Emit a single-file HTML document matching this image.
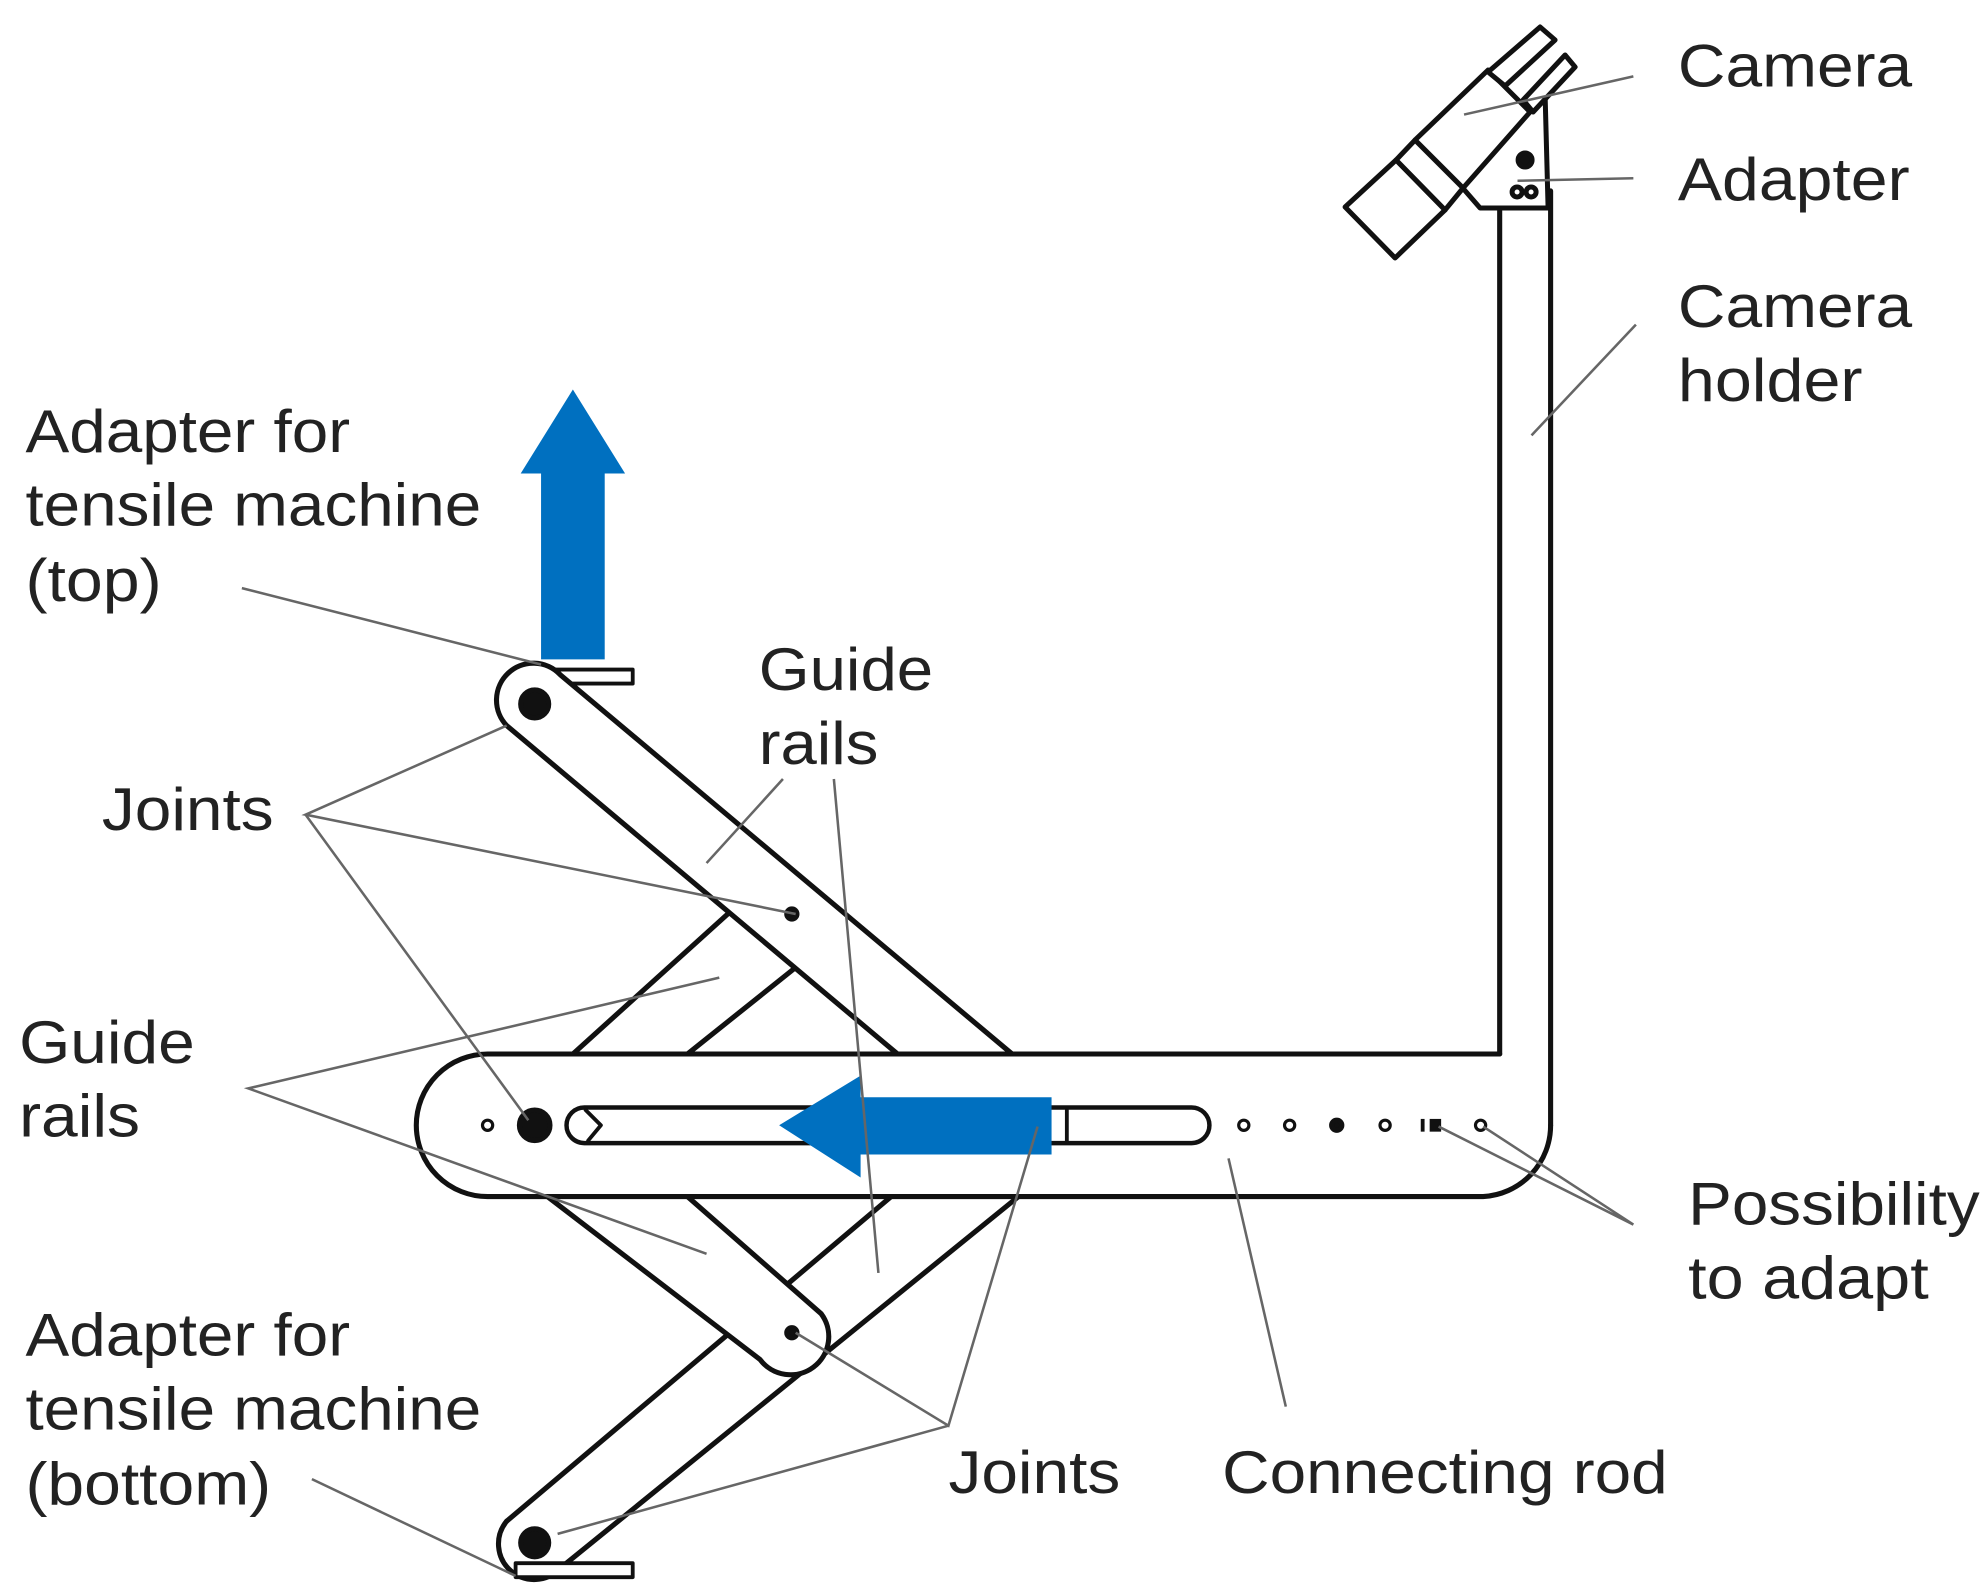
<!DOCTYPE html>
<html><head><meta charset="utf-8"><style>
html,body{margin:0;padding:0;background:#fff}
svg{display:block}
text{font-family:"Liberation Sans",Arial,sans-serif;font-size:47px;fill:#222}
</style></head><body>
<svg width="1986" height="1595" viewBox="0 0 1560 1253" preserveAspectRatio="none" xmlns="http://www.w3.org/2000/svg">
<rect width="1560" height="1253" fill="#fff"/>
<g stroke="#111" stroke-width="4" fill="none" stroke-linecap="round" stroke-linejoin="round">
  <!-- long bottom link -->
  <path d="M700 940 L398 1195 M800 940 L440 1232"/>
  <!-- short bottom link, on top -->
  <path d="M430 940 L597 1068 A25 25 0 0 0 645 1032 L540 940" fill="#fff"/>
  <!-- bottom joint end -->
  <path d="M398 1195 A28 28 0 0 0 440 1232"/>
  <rect x="405" y="1228" width="92" height="11" fill="#fff" stroke-width="3"/>
  <circle cx="420" cy="1212" r="11" fill="#111"/>
  <circle cx="622" cy="1047" r="4" fill="#111"/>
  <!-- top cross link (behind) -->
  <path d="M450 828 L575 715 M540 828 L625 760"/>
  <!-- top link -->
  <rect x="405" y="526" width="92" height="11" fill="#fff" stroke-width="3"/>
  <path d="M705 828 L398 570 A28 28 0 0 1 440 530 L795 828 Z" fill="#fff" stroke="none"/>
  <path d="M705 828 L398 570 A28 28 0 0 1 440 530 L795 828"/>
  <circle cx="420" cy="553" r="11" fill="#111"/>
  <circle cx="622" cy="718" r="4" fill="#111"/>
  <!-- vertical holder -->
  <path d="M1178 828 L1178 150 M1218 884 L1218 150"/>
  <!-- connecting rod -->
  <path d="M383 828 L1178 828 M383 940 L1165 940 A56 56 0 0 0 1218 884 M383 828 A56 56 0 0 0 383 940"/>
  <!-- slot -->
  <rect x="445" y="870" width="505" height="28" rx="14" fill="#fff" stroke-width="3.5"/>
  <path d="M460 872 L472 884 L462 896 M838 872 L838 897" stroke-width="3"/>
  <circle cx="383" cy="884" r="4" stroke-width="2.5"/>
  <circle cx="420" cy="884" r="12" fill="#111"/>
  <circle cx="977" cy="884" r="4" stroke-width="2.5"/>
  <circle cx="1013" cy="884" r="4" stroke-width="2.5"/>
  <circle cx="1050" cy="884" r="4" fill="#111"/>
  <circle cx="1088" cy="884" r="4" stroke-width="2.5"/>
  <rect x="1116" y="879" width="3" height="10" fill="#111" stroke="none"/>
  <rect x="1123" y="879" width="9" height="10" fill="#111" stroke="none"/>
  <circle cx="1163" cy="884" r="4" stroke-width="2.5"/>
  <!-- camera -->
  <g transform="translate(4,0) scale(0.7855)" stroke-width="5">
    <polygon points="1455,185 1540,95 1543,208 1475,208" fill="#fff"/>
    <polygon points="1340,207 1391,160 1440,210 1390,258" fill="#fff"/>
    <polygon points="1391,160 1410,140 1458,188 1440,210" fill="#fff"/>
    <polygon points="1410,140 1483,70 1525,112 1458,188" fill="#fff"/>
    <polygon points="1483,72 1535,27 1550,40 1500,86" fill="#fff"/>
    <polygon points="1518,100 1560,55 1570,67 1528,112" fill="#fff"/>
    <circle cx="1520" cy="160" r="7" fill="#111"/>
    <circle cx="1512" cy="192" r="5"/>
    <circle cx="1526" cy="192" r="5"/>
  </g>
</g>
<!-- blue arrows -->
<polygon points="450,306 491,372 475,372 475,518 425,518 425,372 409,372" fill="#0070c0"/>
<polygon points="612,884 676,845 676,862 826,862 826,907 676,907 676,925" fill="#0070c0"/>
<!-- leader lines -->
<g stroke="#666" stroke-width="2" fill="none">
  <path d="M1283 60 L1150 90"/>
  <path d="M1283 140 L1192 142"/>
  <path d="M1285 255 L1203 342"/>
  <path d="M190 462 L425 522"/>
  <path d="M615 612 L555 678 M655 612 L690 1000"/>
  <path d="M398 570 L240 640 L625 718 M240 640 L415 880"/>
  <path d="M565 768 L195 855 L555 985"/>
  <path d="M1130 885 L1283 962 L1165 885"/>
  <path d="M245 1162 L405 1238"/>
  <path d="M815 885 L745 1120 L625 1047 M745 1120 L438 1205"/>
  <path d="M1010 1105 L965 910"/>
</g>
<!-- labels -->
<g>
<text x="1318" y="68" textLength="184" lengthAdjust="spacingAndGlyphs">Camera</text>
<text x="1318" y="157" textLength="182" lengthAdjust="spacingAndGlyphs">Adapter</text>
<text x="1318" y="257" textLength="184" lengthAdjust="spacingAndGlyphs">Camera</text>
<text x="1318" y="315" textLength="145" lengthAdjust="spacingAndGlyphs">holder</text>
<text x="20" y="355" textLength="255" lengthAdjust="spacingAndGlyphs">Adapter for</text>
<text x="20" y="413" textLength="358" lengthAdjust="spacingAndGlyphs">tensile machine</text>
<text x="20" y="472" textLength="107" lengthAdjust="spacingAndGlyphs">(top)</text>
<text x="596" y="542" textLength="137" lengthAdjust="spacingAndGlyphs">Guide</text>
<text x="596" y="600" textLength="94" lengthAdjust="spacingAndGlyphs">rails</text>
<text x="80" y="652" textLength="135" lengthAdjust="spacingAndGlyphs">Joints</text>
<text x="15" y="835" textLength="138" lengthAdjust="spacingAndGlyphs">Guide</text>
<text x="15" y="893" textLength="95" lengthAdjust="spacingAndGlyphs">rails</text>
<text x="1326" y="962" textLength="229" lengthAdjust="spacingAndGlyphs">Possibility</text>
<text x="1326" y="1020" textLength="189" lengthAdjust="spacingAndGlyphs">to adapt</text>
<text x="20" y="1065" textLength="255" lengthAdjust="spacingAndGlyphs">Adapter for</text>
<text x="20" y="1123" textLength="358" lengthAdjust="spacingAndGlyphs">tensile machine</text>
<text x="20" y="1182" textLength="193" lengthAdjust="spacingAndGlyphs">(bottom)</text>
<text x="745" y="1173" textLength="135" lengthAdjust="spacingAndGlyphs">Joints</text>
<text x="960" y="1173" textLength="350" lengthAdjust="spacingAndGlyphs">Connecting rod</text>
</g>
</svg>
</body></html>
